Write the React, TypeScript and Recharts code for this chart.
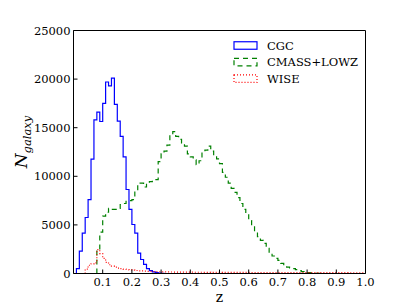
import { LineChart, Line, XAxis, YAxis, Legend } from "recharts";

// histogram bins, width 0.01 in z
const BIN = 0.01;

const xTicks = [0.1, 0.2, 0.3, 0.4, 0.5, 0.6, 0.7, 0.8, 0.9, 1.0];
const yTicks = [0, 5000, 10000, 15000, 20000, 25000];

// CGC, first bin starts at z = 0.01
const cgcStart = 0.01;
const cgcCounts = [
  500, 2300, 4150, 5760, 7600, 11760, 15800, 16600, 15640, 17500, 19700, 19300,
  20100, 17400, 15670, 14100, 12000, 8640, 6590, 5040, 4150, 2090, 1440, 930,
  510, 300, 160, 80, 40, 20,
];

// CMASS+LOWZ, first bin starts at z = 0.08
const cmassStart = 0.08;
const cmassCounts = [
  2400, 4250, 5900, 6300, 6700, 6600, 6600, 6700, 7100, 7200, 7500, 7500, 7600,
  8500, 9300, 9300, 8900, 9400, 9450, 9550, 9650, 11500, 12300, 12600, 13200,
  14400, 14600, 14100, 13800, 13400, 13100, 12300, 12000, 11700, 11200, 11600,
  12500, 12700, 13100, 12600, 12150, 11800, 11300, 10400, 9900, 9300, 8750,
  8350, 7800, 7200, 6600, 6150, 5450, 4950, 4400, 3800, 3400, 3100, 2600, 2200,
  1800, 1550, 1350, 1050, 820, 650, 580, 500, 400, 300, 200, 130, 100, 60, 40,
  25, 10,
];

// WISE, first bin starts at z = 0.04
const wiseStart = 0.04;
const wiseCounts = [
  450, 850, 1000, 1100, 2450, 2050, 1550, 1150, 900, 750, 650, 560, 500, 450,
  410, 370, 340, 310, 280, 260, 240, 220, 210, 200, 190, 180, 170,
  165, 160, 155, 150, 150, 145, 140, 140, 135, 135,
  130, 130, 130, 125, 125, 125, 120, 120, 120, 120,
  115, 115, 115, 115, 110, 110, 110, 110, 110, 105,
  105, 105, 105, 100, 100, 100, 100, 100, 100, 95,
  95, 95, 95, 95, 90, 90, 90, 90, 90, 90,
  85, 85, 85, 85, 85, 85, 80, 80, 80, 80,
  80, 80, 80, 75, 75, 75, 75, 75, 75,
];

const FONT = "DejaVu Serif";

// outline of a step histogram: up at the first edge, down at the last
function stepPoints(start: number, counts: number[]) {
  const pts = [{ z: start, n: 0 }];
  counts.forEach((c, i) => pts.push({ z: +(start + i * BIN).toFixed(2), n: c }));
  pts.push({ z: +(start + counts.length * BIN).toFixed(2), n: 0 });
  return pts;
}

const series = [
  { name: "CGC", data: stepPoints(cgcStart, cgcCounts), color: "#0000ff", dash: undefined },
  { name: "CMASS+LOWZ", data: stepPoints(cmassStart, cmassCounts), color: "#008000", dash: "5 4" },
  { name: "WISE", data: stepPoints(wiseStart, wiseCounts), color: "#ff0000", dash: "1 2" },
];

const BottomTick = ({ x, y, payload }: any) => (
  <g>
    <line x1={x} x2={x} y1={y} y2={y - 4} stroke="#000" />
    <text x={x} y={y + 12.3} textAnchor="middle" fontFamily={FONT} fontSize={11.5} fill="#000">
      {Number(payload.value).toFixed(1)}
    </text>
  </g>
);

const TopTick = ({ x, y }: any) => <line x1={x} x2={x} y1={y} y2={y + 4} stroke="#000" />;

const LeftTick = ({ x, y, payload }: any) => (
  <g>
    <line x1={x} x2={x + 4} y1={y} y2={y} stroke="#000" />
    <text x={x - 3} y={y + 4} textAnchor="end" fontFamily={FONT} fontSize={11.5} fill="#000">
      {payload.value}
    </text>
  </g>
);

const RightTick = ({ x, y }: any) => <line x1={x} x2={x - 4} y1={y} y2={y} stroke="#000" />;

const renderLegend = () => (
  <svg width={140} height={50}>
    {series.map((s, i) => {
      const cy = 8.5 + i * 16.6;
      return (
        <g key={s.name}>
          <rect x={2} y={cy - 3.75} width={23} height={7.5} fill="#fff" stroke={s.color}
            strokeWidth={1.2} strokeDasharray={s.dash} />
          <text x={35} y={cy + 4} fontFamily={FONT} fontSize={11.5} fill="#000">{s.name}</text>
        </g>
      );
    })}
  </svg>
);

export default function App() {
  return (
    <div style={{ position: "absolute", left: 0, top: 0, width: 407, height: 305, background: "#fff", overflow: "hidden" }}>
      <LineChart width={407} height={305} margin={{ top: 29.5, right: 40.5, bottom: 30.5, left: 72.5 }}>
        <XAxis dataKey="z" type="number" domain={[0, 1]} ticks={xTicks} interval={0} height={1}
          tickSize={0} tickMargin={0} tickLine={false} tick={BottomTick}
          axisLine={{ stroke: "#000" }} allowDataOverflow />
        <XAxis xAxisId="top" orientation="top" type="number" domain={[0, 1]} ticks={xTicks}
          interval={0} height={1} tickSize={0} tickMargin={0} tickLine={false} tick={TopTick}
          axisLine={{ stroke: "#000" }} />
        <YAxis type="number" domain={[0, 25000]} ticks={yTicks} interval={0} width={1}
          tickSize={0} tickMargin={0} tickLine={false} tick={LeftTick}
          axisLine={{ stroke: "#000" }} allowDataOverflow />
        <YAxis yAxisId="right" orientation="right" type="number" domain={[0, 25000]} ticks={yTicks}
          interval={0} width={1} tickSize={0} tickMargin={0} tickLine={false} tick={RightTick}
          axisLine={{ stroke: "#000" }} />
        {series.map((s) => (
          <Line key={s.name} name={s.name} data={s.data} dataKey="n" type="stepAfter"
            stroke={s.color} strokeWidth={1.2} strokeDasharray={s.dash} dot={false}
            activeDot={false} isAnimationActive={false} />
        ))}
        <Legend layout="vertical" align="center" verticalAlign="middle" content={renderLegend}
          wrapperStyle={{ left: 232, top: 36.5, width: 140 }} />
      </LineChart>
      <div style={{ position: "absolute", left: 219.5, top: 288.75, transform: "translateX(-50%)",
        fontFamily: FONT, fontSize: 14, lineHeight: "16px" }}>z</div>
      <div style={{ position: "absolute", left: 23, top: 142, transform: "translate(-50%, -50%) rotate(-90deg)",
        fontFamily: FONT, fontStyle: "italic", fontSize: 17, whiteSpace: "nowrap", lineHeight: 1 }}>
        N<sub style={{ fontSize: 11.5 }}>galaxy</sub>
      </div>
    </div>
  );
}
